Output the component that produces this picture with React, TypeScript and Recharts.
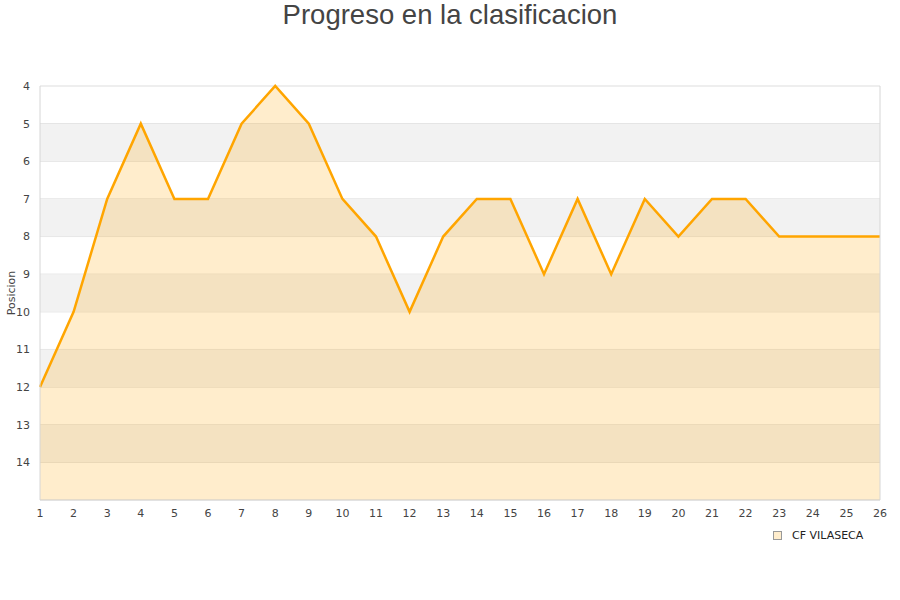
import React from "react";
import {
    ComposedChart,
    Area,
    XAxis,
    YAxis,
    CartesianGrid,
    ReferenceArea,
    ReferenceLine,
} from "recharts";

const jornadas = [1, 2, 3, 4, 5, 6, 7, 8, 9, 10, 11, 12, 13, 14, 15, 16, 17, 18, 19, 20, 21, 22, 23, 24, 25, 26];
const posiciones = [12, 10, 7, 5, 7, 7, 5, 4, 5, 7, 8, 10, 8, 7, 7, 9, 7, 9, 7, 8, 7, 7, 8, 8, 8, 8];
const yTicks = [4, 5, 6, 7, 8, 9, 10, 11, 12, 13, 14];
const bandas = [5, 7, 9, 11, 13];
const equipo = "CF VILASECA";

const data = jornadas.map((j, i) => ({ jornada: j, pos: posiciones[i] }));

const ORANGE = "#FFA500";
const FONT = "'DejaVu Sans', sans-serif";

export default function App() {
    return (
        <div style={{ position: "absolute", left: 0, top: 0, width: 900, height: 600, background: "#fff" }}>
            {/* titulo */}
            <div
                style={{
                    position: "absolute",
                    top: -1,
                    left: 0,
                    width: 900,
                    textAlign: "center",
                    fontFamily: "'Liberation Sans', Arial, sans-serif",
                    fontSize: 27.5,
                    color: "#444",
                    lineHeight: "32px",
                }}
            >
                Progreso en la clasificacion
            </div>

            <ComposedChart
                width={900}
                height={600}
                data={data}
                margin={{ top: 86, right: 20, bottom: 80, left: 0 }}
            >
                {bandas.map((b) => (
                    <ReferenceArea key={b} y1={b} y2={b + 1} fill="#f2f2f2" fillOpacity={1} stroke="none" />
                ))}
                <CartesianGrid vertical={false} stroke="#dddddd" />
                <XAxis
                    dataKey="jornada"
                    type="number"
                    domain={[1, 26]}
                    ticks={jornadas}
                    interval={0}
                    tickLine={false}
                    tickSize={0}
                    tickMargin={9}
                    axisLine={{ stroke: "#d6d6d6" }}
                    tick={{ fontSize: 11, fill: "#444", fontFamily: FONT }}
                    height={20}
                />
                <YAxis
                    reversed
                    type="number"
                    domain={[4, 15]}
                    ticks={yTicks}
                    interval={0}
                    tickLine={false}
                    tickSize={0}
                    tickMargin={10}
                    axisLine={{ stroke: "#d6d6d6" }}
                    tick={{ fontSize: 11, fill: "#444", fontFamily: FONT }}
                    width={40}
                    label={{
                        value: "Posicion",
                        angle: -90,
                        position: "insideLeft",
                        offset: 11,
                        style: { fontSize: 11, fill: "#444", fontFamily: FONT, textAnchor: "middle" },
                    }}
                />
                <ReferenceLine x={26} stroke="#d6d6d6" />
                <Area
                    type="linear"
                    dataKey="pos"
                    baseValue={15}
                    stroke={ORANGE}
                    strokeWidth={2.5}
                    fill={ORANGE}
                    fillOpacity={0.2}
                    dot={false}
                    activeDot={false}
                    isAnimationActive={false}
                />
            </ComposedChart>

            {/* leyenda */}
            <div
                style={{
                    position: "absolute",
                    left: 773,
                    top: 529,
                    display: "flex",
                    alignItems: "center",
                    fontFamily: FONT,
                    fontSize: 11,
                    color: "#222",
                }}
            >
                <span
                    style={{
                        display: "inline-block",
                        width: 7,
                        height: 7,
                        background: "#FFEDCC",
                        border: "1px solid #999",
                        marginRight: 10,
                    }}
                />
                {equipo}
            </div>
        </div>
    );
}
